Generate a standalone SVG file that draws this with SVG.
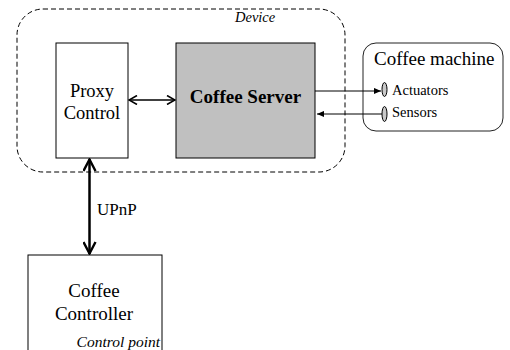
<svg xmlns="http://www.w3.org/2000/svg" width="510" height="350" viewBox="0 0 510 350">
  <defs>
    <style>
      text { font-family: "Liberation Serif", "Times New Roman", serif; fill: #000; }
      .box { fill: #fff; stroke: #000; stroke-width: 1; }
      .server { fill: #c0c0c0; stroke: #000; stroke-width: 1; }
      .round { fill: #fff; stroke: #222; stroke-width: 1; }
      .dash { fill: none; stroke: #000; stroke-width: 1; stroke-dasharray: 5 3; }
      .port { fill: #c8c8c8; stroke: #000; stroke-width: 1; }
      .link { fill: none; stroke: #000; }
      .it { font-style: italic; }
    </style>
    <marker id="open" viewBox="0 0 10 10" refX="9" refY="5" markerWidth="10" markerHeight="10" markerUnits="userSpaceOnUse" orient="auto-start-reverse">
      <path d="M1,0.5 L9,5 L1,9.5" fill="none" stroke="#000" stroke-width="1.6"/>
    </marker>
    <marker id="openBig" viewBox="0 0 14 14" refX="13" refY="7" markerWidth="14" markerHeight="14" markerUnits="userSpaceOnUse" orient="auto-start-reverse">
      <path d="M1,1 L12.5,7 L1,13" fill="none" stroke="#000" stroke-width="2.4"/>
    </marker>
    <marker id="solid" viewBox="0 0 8 8" refX="8" refY="4" markerWidth="7" markerHeight="7" markerUnits="userSpaceOnUse" orient="auto">
      <path d="M0,0.5 L8,4 L0,7.5 Z" fill="#000"/>
    </marker>
  </defs>

  <!-- device boundary -->
  <g id="device">
    <rect class="dash" x="17" y="9" width="328" height="163" rx="26" ry="26"/>
    <text class="it" x="235" y="22" font-size="14.5">Device</text>
  </g>

  <g id="proxy-control">
    <rect class="box" x="56" y="43" width="72" height="115"/>
    <text x="92" y="97" font-size="18.5" text-anchor="middle">Proxy</text>
    <text x="92" y="119" font-size="18.5" text-anchor="middle">Control</text>
  </g>

  <g id="coffee-server">
    <rect class="server" x="176" y="43" width="139" height="115"/>
    <text x="245.5" y="103" font-size="19" font-weight="bold" text-anchor="middle">Coffee Server</text>
  </g>

  <g id="coffee-machine">
    <rect class="round" x="363" y="43" width="140" height="88" rx="13" ry="13"/>
    <text x="374" y="65" font-size="19">Coffee machine</text>
    <ellipse class="port" cx="384.5" cy="89.5" rx="2.5" ry="7"/>
    <text x="392" y="95" font-size="14.5">Actuators</text>
    <ellipse class="port" cx="384.5" cy="114" rx="2.5" ry="7.5"/>
    <text x="392" y="117" font-size="14.5">Sensors</text>
  </g>

  <g id="coffee-controller">
    <rect class="box" x="28" y="255" width="134" height="110" stroke="#333"/>
    <text x="94" y="297" font-size="19" text-anchor="middle">Coffee</text>
    <text x="94" y="320" font-size="19" text-anchor="middle">Controller</text>
    <text class="it" x="160" y="347" font-size="15.5" text-anchor="end">Control point</text>
  </g>

  <g id="connectors">
    <line class="link" x1="129" y1="100" x2="175" y2="100" stroke-width="1.5" marker-start="url(#open)" marker-end="url(#open)"/>
    <line class="link" x1="315" y1="91" x2="381" y2="91" stroke-width="1" marker-end="url(#solid)"/>
    <line class="link" x1="382" y1="114" x2="317" y2="114" stroke-width="1" marker-end="url(#solid)"/>
    <line class="link" x1="89.5" y1="159" x2="89.5" y2="254" stroke-width="2.5" marker-start="url(#openBig)" marker-end="url(#openBig)"/>
    <text x="97" y="215" font-size="17">UPnP</text>
  </g>
</svg>
